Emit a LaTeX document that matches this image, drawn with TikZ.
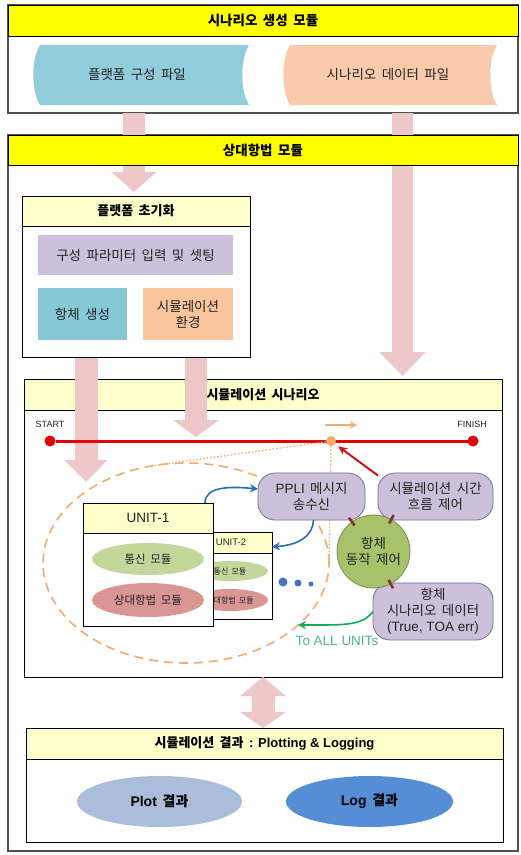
\documentclass[tikz,border=0pt]{standalone}
\usepackage{fontspec}
\setmainfont{Noto Sans CJK KR}[WordSpace=1.8]
\newfontfamily\lat{Liberation Sans}
\usetikzlibrary{arrows.meta,shapes.geometric,calc}
\definecolor{hdryellow}{RGB}{255,255,0}
\definecolor{lightyel}{RGB}{255,255,204}
\definecolor{bannerblue}{RGB}{146,205,220}
\definecolor{bannerorange}{RGB}{249,203,172}
\definecolor{lav}{RGB}{204,192,218}
\definecolor{lavborder}{RGB}{120,110,150}
\definecolor{boxblue}{RGB}{135,200,215}
\definecolor{boxorange}{RGB}{250,196,156}
\definecolor{pinkarr}{RGB}{238,200,200}
\definecolor{tlred}{RGB}{228,0,0}
\definecolor{darkred}{RGB}{200,20,20}
\definecolor{orng}{RGB}{245,170,110}
\definecolor{unitgreen}{RGB}{196,215,155}
\definecolor{unitred}{RGB}{218,150,148}
\definecolor{circgreen}{RGB}{166,194,106}
\definecolor{circborder}{RGB}{120,140,80}
\definecolor{arrblue}{RGB}{40,110,180}
\definecolor{arrgreen}{RGB}{20,170,90}
\definecolor{txtgreen}{RGB}{80,180,150}
\definecolor{plotblue}{RGB}{170,190,220}
\definecolor{logblue}{RGB}{85,142,213}
\definecolor{stubbrown}{RGB}{130,50,40}
\definecolor{bordergray}{RGB}{80,80,80}
\definecolor{dotblue}{RGB}{68,114,196}
\definecolor{txtgray}{RGB}{35,35,35}
\pgfdeclarelayer{bg}
\pgfdeclarelayer{mid}
\pgfsetlayers{bg,mid,main}
\begin{document}
\begin{tikzpicture}[x=1pt,y=-1pt,
  every node/.style={inner sep=0pt,outer sep=0pt,text=txtgray},
  outerbox/.style={draw=bordergray,line width=1.2pt,fill=white},
  innerbox/.style={draw=black,line width=0.8pt,fill=white},
  yhdr/.style={draw=black,line width=0.8pt,fill=hdryellow,text=black,font=\fontsize{13.5}{16}\selectfont\bfseries},
  lhdr/.style={draw=black,line width=0.8pt,fill=lightyel},
  b13/.style={text=black,font=\fontsize{13}{16}\selectfont\bfseries},
  b14/.style={text=black,font=\fontsize{14}{17}\selectfont\bfseries},
  t13/.style={font=\fontsize{13.5}{16}\selectfont,align=center},
  t12/.style={font=\fontsize{11.5}{14}\selectfont,align=center},
  t9/.style={font=\lat\fontsize{9}{11}\selectfont},
  t8/.style={font=\fontsize{8}{10}\selectfont},
  sqbox/.style={draw=none,t13},
  rbox/.style={draw=lavborder,line width=0.8pt,fill=lav,rounded corners=17pt,t13},
  pinkarrow/.style={draw=pinkarr,line width=22pt},
  tl/.style={draw=tlred,line width=3pt},
  reddot/.style={circle,fill=tlred,minimum size=11pt},
  odotted/.style={draw=orng,line width=1.3pt,dash pattern=on 1.5pt off 2pt},
  stub/.style={draw=stubbrown,line width=2.6pt},
  bluearr/.style={draw=arrblue,line width=1.6pt,-{Stealth[length=8pt,width=8pt]}},
  greenarr/.style={draw=arrgreen,line width=1.6pt,-{Stealth[length=8pt,width=8pt]}},
  redarr/.style={draw=darkred,line width=2pt,-{Stealth[length=9pt,width=8pt]}}
]
\useasboundingbox (0,0) rectangle (520,855);
\begin{pgfonlayer}{bg}
\fill[white] (0,0) rectangle (520,855);
\node[outerbox,minimum width=510pt,minimum height=108pt] (scen) at (263,59) {};
\node[outerbox,minimum width=510pt,minimum height=716pt] (nav) at (263,493) {};
\node[innerbox,minimum width=478pt,minimum height=298pt] (sim) at (263,528) {};
\node[lhdr,minimum width=478pt,minimum height=31pt] (simhdr) at (263,394.5) {};
\end{pgfonlayer}

% top module
\node[yhdr,minimum width=510pt,minimum height=31pt] (scenhdr) at (263,20.5) {시나리오 생성 모듈};
\fill[bannerblue] (40,45) -- (249,45) .. controls (240,60) and (240,90) .. (249,105) -- (40,105) .. controls (31,90) and (31,60) .. (40,45) -- cycle;
\fill[bannerorange] (290,45) -- (497,45) .. controls (488,60) and (488,90) .. (497,105) -- (290,105) .. controls (281,90) and (281,60) .. (290,45) -- cycle;
\node[t13] (pfile) at (137,74) {플랫폼 구성 파일};
\node[t13] (sfile) at (388,74) {시나리오 데이터 파일};

% navigation module
\node[yhdr,minimum width=510pt,minimum height=30pt] (navhdr) at (263,150) {상대항법 모듈};

% platform init
\node[innerbox,minimum width=228pt,minimum height=161pt] (plat) at (136,276.5) {};
\node[lhdr,b13,minimum width=228pt,minimum height=30pt] (plathdr) at (136,211) {플랫폼 초기화};
\node[sqbox,fill=lav,minimum width=195pt,minimum height=40pt] (param) at (135.5,255) {구성 파라미터 입력 및 셋팅};
\node[sqbox,fill=boxblue,minimum width=89pt,minimum height=52pt] (create) at (82.5,314) {항체 생성};
\node[sqbox,fill=boxorange,minimum width=90pt,minimum height=52pt] (env) at (188,314) {시뮬레이션\\환경};

% simulation scenario
\node[b13] (simtitle) at (263,394.5) {시뮬레이션 시나리오};
\node[t9] (startlbl) at (50,424) {START};
\node[t9] (finishlbl) at (472,424) {FINISH};
\node[reddot] (start) at (50,441) {};
\node[reddot] (finish) at (473,441) {};
\draw[tl] (start) -- (finish);

\node[draw=orng,line width=1.6pt,dash pattern=on 9pt off 6pt,ellipse,minimum width=286pt,minimum height=200pt] (zone) at (186,563) {};
\node[circle,fill=orng,minimum size=10pt] (now) at (331,441) {};
\coordinate (tt) at (150,466);
\coordinate (tr) at (329,562);
\draw[odotted] (now) -- (tt);
\draw[odotted] (now) -- (tr);
\coordinate (oa1) at (325,425);
\coordinate (oa2) at (357,425);
\draw[draw=orng,line width=1.5pt,-{Stealth[length=7pt,width=7pt]}] (oa1) -- (oa2);

% units
\node[innerbox,minimum width=82pt,minimum height=87pt] (unit2) at (231,575.5) {};
\node[lhdr,minimum width=82pt,minimum height=21pt,font=\lat\fontsize{9.5}{11}\selectfont] (unit2hdr) at (231,542.5) {UNIT-2};
\node[ellipse,fill=unitgreen,minimum width=76pt,minimum height=20pt,t8] (u2com) at (230,571) {통신 모듈};
\node[ellipse,fill=unitred,minimum width=76pt,minimum height=22pt,t8] (u2nav) at (230,600) {상대항법 모듈};
\node[innerbox,minimum width=130pt,minimum height=123pt] (unit1) at (148,564.5) {};
\node[lhdr,line width=1pt,minimum width=130pt,minimum height=30pt,font=\lat\fontsize{13.5}{16}\selectfont] (unit1hdr) at (148,518) {UNIT-1};
\node[ellipse,fill=unitgreen,minimum width=112pt,minimum height=32pt,t12] (u1com) at (148,559) {통신 모듈};
\node[ellipse,fill=unitred,minimum width=112pt,minimum height=34pt,t12] (u1nav) at (148,600) {상대항법 모듈};
\node[circle,fill=dotblue,minimum size=9pt] (d1) at (283,582) {};
\node[circle,fill=dotblue,minimum size=7pt] (d2) at (298,583) {};
\node[circle,fill=dotblue,minimum size=5pt] (d3) at (311,584) {};

% control boxes
\node[rbox,minimum width=107pt,minimum height=47pt] (ppli) at (311.5,496.5) {{\lat PPLI} 메시지\\송수신};
\node[rbox,minimum width=115pt,minimum height=47pt] (time) at (435.5,496.5) {시뮬레이션 시간\\흐름 제어};
\node[rbox,minimum width=120pt,minimum height=57pt] (data) at (433,611.5) {항체\\시나리오 데이터\\{\lat (True, TOA err)}};
\node[circle,draw=circborder,line width=0.8pt,fill=circgreen,minimum size=73pt,t13] (circ) at (373.5,551.5) {항체\\동작 제어};

\draw[stub] ($(circ.center)!0.88!(circ.126)$) -- ($(circ.center)!1.14!(circ.126)$);
\draw[stub] ($(circ.center)!0.88!(circ.61)$) -- ($(circ.center)!1.14!(circ.61)$);
\draw[stub] ($(circ.center)!0.88!(circ.-62)$) -- ($(circ.center)!1.14!(circ.-62)$);

\draw[redarr,shorten >=4pt] (time.160) -- (now);
\draw[bluearr] ([xshift=-8pt]unit1.north east) .. controls (205,487) and (228,486) .. (ppli.172);
\draw[bluearr] ([xshift=2pt]ppli.south) .. controls (313,535) and (300,545) .. (unit2.35);
\coordinate (ga) at (298,625);
\draw[greenarr] (data.west) .. controls (362,626) and (345,625) .. (ga);
\node[font=\lat\fontsize{13.5}{16}\selectfont,text=txtgreen] (toall) at (337,641) {To ALL UNITs};

% results
\node[innerbox,minimum width=477pt,minimum height=114pt] (res) at (264.5,785) {};
\node[lhdr,b13,minimum width=477pt,minimum height=31pt] (reshdr) at (264.5,743.5) {시뮬레이션 결과 {\lat : Plotting \& Logging}};
\node[ellipse,fill=plotblue,minimum width=165pt,minimum height=51pt,b14] (plot) at (159.5,801.5) {{\lat Plot} 결과};
\node[ellipse,fill=logblue,minimum width=167pt,minimum height=51pt,b14] (log) at (369.5,801.5) {{\lat Log} 결과};

% pink block arrows
\begin{pgfonlayer}{mid}
\coordinate (tipC) at (134,192);
\coordinate (tipD) at (402.5,376);
\coordinate (tipA) at (86,482);
\coordinate (tipB) at (196,437);
\coordinate (dx) at (263,0);
\draw[pinkarrow,-{Triangle[length=20pt,width=44pt]}] (scen.south -| tipC) -- (tipC);
\draw[pinkarrow,line width=21pt,-{Triangle[length=24pt,width=45pt]}] (scen.south -| tipD) -- (tipD);
\draw[pinkarrow,line width=23pt,-{Triangle[length=22pt,width=42pt]}] (plat.south -| tipA) -- (tipA);
\draw[pinkarrow,-{Triangle[length=17pt,width=45pt]}] (plat.south -| tipB) -- (tipB);
\draw[pinkarrow,line width=23pt,{Triangle[length=19pt,width=45pt]}-{Triangle[length=16pt,width=45pt]}] (sim.south -| dx) -- (res.north -| dx);
\end{pgfonlayer}
\end{tikzpicture}
\end{document}
